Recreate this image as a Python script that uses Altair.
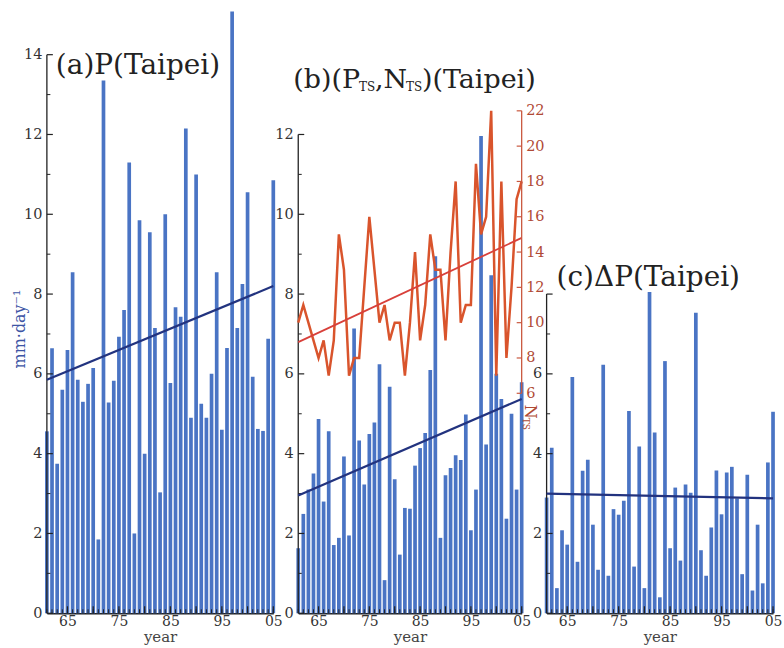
import altair as alt
import pandas as pd

# ---------------- data ----------------
years = list(range(1961, 2006))

# (a) total precipitation P (mm/day)
p_total = [4.56, 6.64, 3.75, 5.6, 6.6, 8.55, 5.85, 5.3, 5.75, 6.15,
           1.85, 13.35, 5.28, 5.83, 6.93, 7.6, 11.3, 2.0, 9.85, 4.0,
           9.55, 7.15, 3.03, 10.0, 5.77, 7.67, 7.43, 12.15, 4.9, 11.0,
           5.25, 4.9, 6.0, 8.55, 4.6, 6.65, 15.08, 7.15, 8.25, 10.55,
           5.93, 4.62, 4.57, 6.88, 10.85]

# (b) typhoon precipitation P_TS (mm/day)
p_ts = [1.63, 2.49, 3.1, 3.5, 4.87, 2.8, 4.56, 1.71, 1.89, 3.93,
        1.95, 7.14, 4.33, 3.23, 4.49, 4.78, 6.24, 0.83, 5.68, 3.36,
        1.47, 2.64, 2.62, 3.7, 4.14, 4.52, 6.1, 8.95, 1.89, 3.46,
        3.64, 3.96, 3.84, 4.98, 2.08, 3.1, 11.96, 4.23, 8.47, 6.0,
        5.37, 2.37, 5.0, 3.1, 5.79]

# (b) number of typhoons N_TS
n_ts = [10, 11, 10, 9, 8, 9, 7, 9, 15, 13,
        7, 8, 8, 12, 16, 13, 10, 11, 9, 10,
        10, 7, 10, 14, 9, 11, 15, 13, 13, 9,
        14, 18, 10, 11, 11, 19, 15, 16, 22, 7,
        18, 8, 12, 17, 18]

# (c) delta P (mm/day)
dp = [2.9, 4.15, 0.63, 2.08, 1.72, 5.92, 1.29, 3.57, 3.85, 2.22,
      1.09, 6.23, 0.94, 2.61, 2.47, 2.82, 5.07, 1.17, 4.18, 0.63,
      8.05, 4.53, 0.4, 6.32, 1.63, 3.15, 1.32, 3.23, 3.02, 7.53,
      1.58, 0.94, 2.15, 3.58, 2.48, 3.53, 3.67, 2.88, 0.98, 3.47,
      0.57, 2.22, 0.75, 3.78, 5.05]

# linear trends (end points)
trend_years = [1961, 2005]
trend_p = [5.85, 8.2]
trend_pts = [2.95, 5.37]
trend_nts = [8.9, 14.8]
trend_dp = [3.0, 2.88]

# axis tick values
x_label_years = [1965, 1970, 1975, 1980, 1985, 1990, 1995, 2000, 2005]
n_ticks = [6, 8, 10, 12, 14, 16, 18, 20, 22]

# ---------------- styling ----------------
FONT = "DejaVu Serif"
BAR = "#4a74c4"
NAVY = "#22337f"
RED = "#d9542c"
RED_TREND = "#d8403a"
RED_AXIS = "#c9583f"
RED_LABEL = "#b04a35"
AXIS = "#222222"
TXT = "#222222"

W_A, W_B, W_C = 227, 224, 227
H = 560

xscale = alt.Scale(domain=[1961, 2005], nice=False, zero=False, padding=0)
yscale = alt.Scale(domain=[0, 14], nice=False)
nscale = alt.Scale(domain=[-6.46, 25.18], nice=False, zero=False)

df_years = pd.DataFrame({"year": years})


def x_axis():
    return alt.Axis(values=x_label_years, format="d",
                    labelExpr="substring(datum.label, 2)",
                    ticks=False, domain=True, domainColor=AXIS, domainWidth=1.3,
                    grid=False, labelFont=FONT, labelFontSize=14, labelColor="#333",
                    labelPadding=1, labelFlush=False, labelOverlap=False,
                    title="year", titleFont=FONT, titleFontSize=15,
                    titleFontWeight="normal", titleColor="#444", titlePadding=1)


def y_axis(labels):
    return alt.Axis(values=labels, ticks=False, domain=False, grid=False,
                    labelFont=FONT, labelFontSize=14.5, labelColor="#333",
                    labelPadding=5, title=None, labelFlush=False)


def decor(top):
    """inward ticks and axis line of one panel"""
    maj = [v for v in range(0, top + 1) if v % 2 == 0]
    mnr = [v for v in range(0, top) if v % 2 == 1]
    layers = []
    layers.append(alt.Chart(pd.DataFrame({"a": [0], "b": [top]})).mark_rule(
        color=AXIS, strokeWidth=1.3).encode(
        x=alt.value(0), y=alt.Y("a:Q", scale=yscale), y2="b:Q"))
    layers.append(alt.Chart(pd.DataFrame({"v": maj})).mark_rule(
        color=AXIS, strokeWidth=1.2).encode(
        x=alt.value(0), x2=alt.value(6), y=alt.Y("v:Q", scale=yscale)))
    layers.append(alt.Chart(pd.DataFrame({"v": mnr})).mark_rule(
        color=AXIS, strokeWidth=1.0).encode(
        x=alt.value(0), x2=alt.value(3.5), y=alt.Y("v:Q", scale=yscale)))
    layers.append(alt.Chart(df_years).mark_rule(color=AXIS, strokeWidth=1.0).encode(
        x=alt.X("year:Q", scale=xscale), y=alt.value(H), y2=alt.value(H - 4)))
    layers.append(alt.Chart(pd.DataFrame({"year": x_label_years})).mark_rule(
        color=AXIS, strokeWidth=1.2).encode(
        x=alt.X("year:Q", scale=xscale), y=alt.value(H), y2=alt.value(H - 7)))
    return layers


def bars(values, labels):
    df = pd.DataFrame({"year": years, "v": values})
    return alt.Chart(df).mark_bar(size=3.7, color=BAR).encode(
        x=alt.X("year:Q", scale=xscale, axis=x_axis()),
        y=alt.Y("v:Q", scale=yscale, axis=y_axis(labels)))


def trend(vals, color, scale, width):
    df = pd.DataFrame({"year": trend_years, "v": vals})
    return alt.Chart(df).mark_line(color=color, strokeWidth=width).encode(
        x=alt.X("year:Q", scale=xscale),
        y=alt.Y("v:Q", scale=scale))


def text(t, x, y, size, color=TXT, angle=0, align="left", baseline="alphabetic"):
    return alt.Chart(pd.DataFrame({"t": [t]})).mark_text(
        font=FONT, fontSize=size, color=color, angle=angle, align=align,
        baseline=baseline).encode(text="t:N", x=alt.value(x), y=alt.value(y))


# ---------------- panel (a) ----------------
panel_a = alt.layer(
    bars(p_total, [0, 2, 4, 6, 8, 10, 12, 14]),
    *decor(14),
    trend(trend_p, NAVY, yscale, 2.2),
    text("(a)P(Taipei)", 9, 19, 28),
    text("mm·day⁻¹", -27, 275, 16, color="#3d55a5", angle=270,
         align="center", baseline="middle"),
).properties(width=W_A, height=H)

# ---------------- panel (b) ----------------
left_b = alt.layer(
    bars(p_ts, [0, 2, 4, 6, 8, 10, 12]),
    *decor(12),
    trend(trend_pts, NAVY, yscale, 2.2),
    text("(b)(P", -5, 33, 27),
    text("TS", 61, 36, 12),
    text(",N", 77, 33, 27),
    text("TS", 108, 36, 12),
    text(")(Taipei)", 124, 33, 27),
    text("N", 227, 351, 16, color=RED_LABEL, angle=90),
    text("TS", 225, 364, 9, color=RED_LABEL, angle=90),
)

df_n = pd.DataFrame({"year": years, "n": n_ts})
right_b = alt.layer(
    alt.Chart(df_n).mark_line(color=RED, strokeWidth=2.5).encode(
        x=alt.X("year:Q", scale=xscale),
        y=alt.Y("n:Q", scale=nscale,
                axis=alt.Axis(orient="right", values=n_ticks, ticks=False,
                              domain=False, grid=False, labelFont=FONT,
                              labelFontSize=14.5, labelColor=RED_LABEL,
                              labelPadding=4, title=None, labelFlush=False))),
    trend(trend_nts, RED_TREND, nscale, 1.8),
    alt.Chart(pd.DataFrame({"a": [6], "b": [22]})).mark_rule(
        color=RED_AXIS, strokeWidth=1.3).encode(
        x=alt.value(W_B), y=alt.Y("a:Q", scale=nscale), y2="b:Q"),
    alt.Chart(pd.DataFrame({"v": n_ticks})).mark_rule(
        color=RED_AXIS, strokeWidth=1.2).encode(
        x=alt.value(W_B - 5), x2=alt.value(W_B),
        y=alt.Y("v:Q", scale=nscale)),
)

panel_b = alt.layer(left_b, right_b).resolve_scale(y="independent").properties(
    width=W_B, height=H)

# ---------------- panel (c) ----------------
panel_c = alt.layer(
    bars(dp, [0, 2, 4, 6]),
    *decor(8),
    trend(trend_dp, NAVY, yscale, 2.2),
    text("(c)ΔP(Taipei)", 10, 232, 28),
).properties(width=W_C, height=H)

chart = alt.hconcat(panel_a, panel_b, panel_c, spacing=25, bounds="flush").properties(
    padding={"left": 12, "top": 10, "right": 2, "bottom": 2},
    background="white",
).configure_view(stroke=None)

chart.save("out.html", embed_options={"renderer": "svg", "actions": False})
